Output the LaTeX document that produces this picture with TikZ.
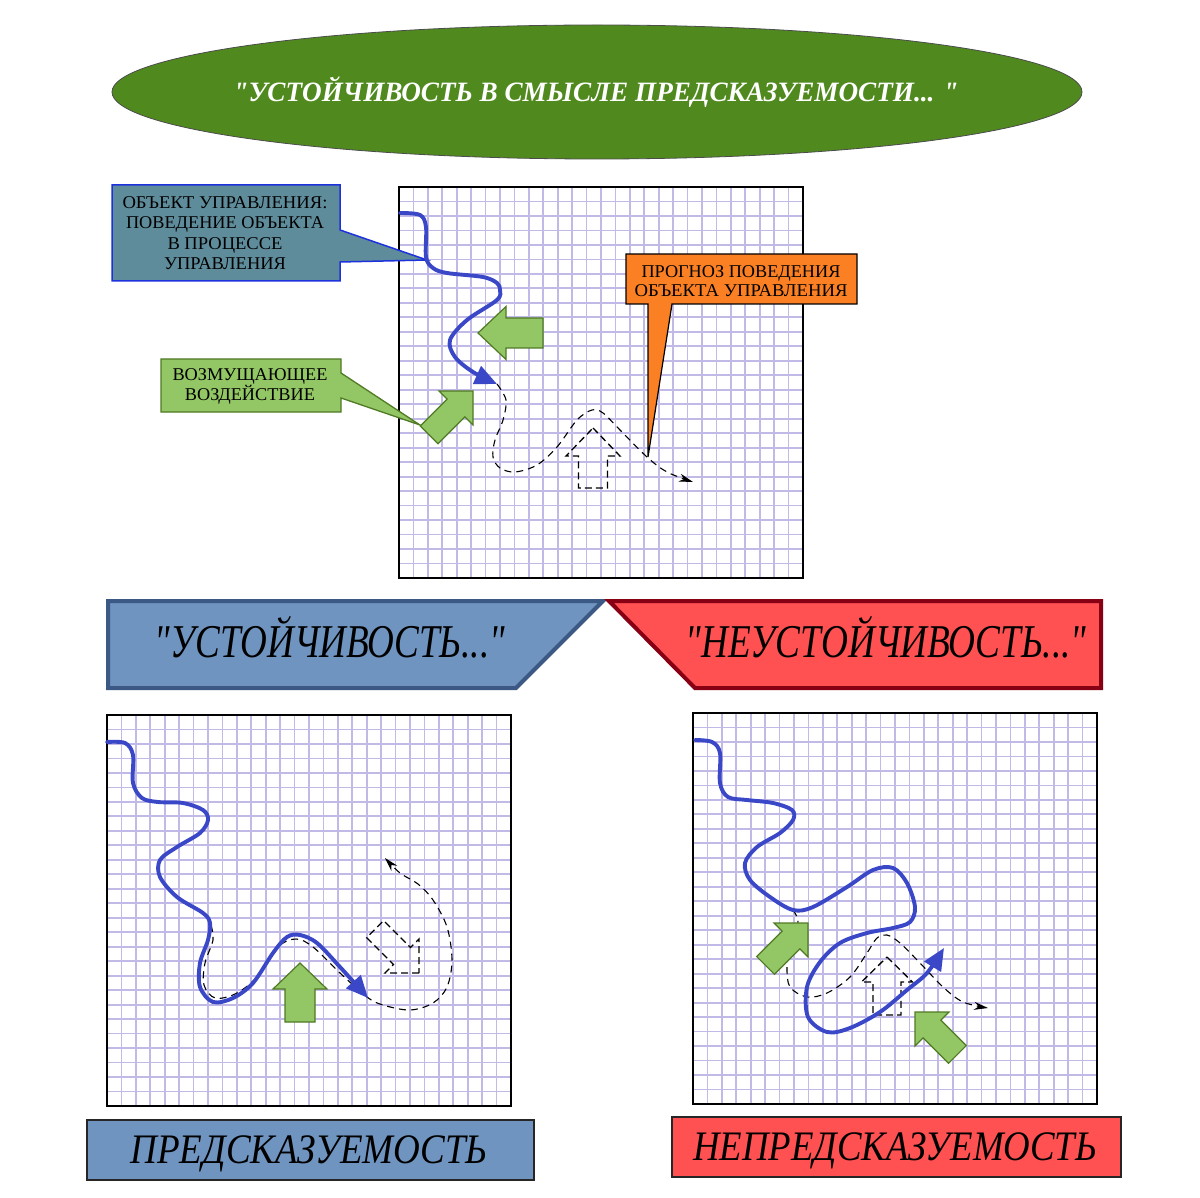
\documentclass[tikz,border=0pt]{standalone}
\usepackage{fontspec}
\setmainfont{Liberation Serif}[Ligatures=TeXOff]
\usetikzlibrary{arrows.meta,shapes.geometric}
\definecolor{gridc}{RGB}{194,186,230}
\definecolor{curveblue}{RGB}{58,72,200}
\definecolor{titlegreen}{RGB}{80,138,30}
\definecolor{arrgreen}{RGB}{147,198,100}
\definecolor{arrgreenb}{RGB}{80,122,36}
\definecolor{callblue}{RGB}{95,140,155}
\definecolor{callblueb}{RGB}{30,50,220}
\definecolor{callorange}{RGB}{250,128,35}
\definecolor{bannerblue}{RGB}{111,148,192}
\definecolor{bannerblueb}{RGB}{59,89,132}
\definecolor{bannerred}{RGB}{255,80,82}
\definecolor{bannerredb}{RGB}{135,0,20}
\newcommand\fw[2]{\resizebox{#1pt}{\height}{#2}}
\newcommand\gridbox[4]{%
  \fill[white] (#1,#2) rectangle (#3,#4);
  \foreach \i in {1,...,27}{\draw[gridl] ({#1+\i*(#3-#1)/28},#2) -- ({#1+\i*(#3-#1)/28},#4);}
  \foreach \j in {1,...,26}{\draw[gridl] (#1,{#2+\j*(#4-#2)/27}) -- (#3,{#2+\j*(#4-#2)/27});}
  \draw[black, line width=1.3] (#1,#2) rectangle (#3,#4);}
\newcommand\blkarrow[8]{\draw[#1, shift={(#2,#3)}, rotate=#4] (0,0) -- (-#6,#8/2) -- (-#6,#7/2) -- (-#5,#7/2) -- (-#5,-#7/2) -- (-#6,-#7/2) -- (-#6,-#8/2) -- cycle;}
\tikzset{
  gridl/.style={draw=gridc, line width=1.8},
  bluecurve/.style={draw=curveblue, line width=3.9, line cap=round, -{Triangle[length=22pt,width=19pt]}},
  dashcurve/.style={draw=black, line width=1.1, dash pattern=on 7pt off 5pt, -{Stealth[length=14pt,width=8pt]}},
  dashshape/.style={draw=black, line width=1.3, dash pattern=on 7pt off 4pt},
  greenarr/.style={fill=arrgreen, draw=arrgreenb, line width=1.2, line join=miter},
  calltext/.style={align=center, text=black, inner sep=0pt, font=\fontsize{18}{20.5}\selectfont},
  bigital/.style={anchor=base, inner sep=0pt, font=\itshape\fontsize{47}{50}\selectfont},
}
\begin{document}
\begin{tikzpicture}[x=1pt, y=-1pt]
\useasboundingbox (0,0) rectangle (1200,1198);
\fill[white] (0,0) rectangle (1200,1198);

% title ellipse
\node[ellipse, fill=titlegreen, draw=black!70, line width=0.8, minimum width=970pt, minimum height=134pt, inner sep=0pt] (title) at (597,92) {};
\node[anchor=base, inner sep=0pt, text=white, font=\bfseries\itshape\fontsize{28}{32}\selectfont] (titletext) at (596,102) {\fw{725}{"УСТОЙЧИВОСТЬ В СМЫСЛЕ ПРЕДСКАЗУЕМОСТИ... "}};

% ---------- top grid ----------
\gridbox{399}{187}{803}{578}

% callouts
\draw[fill=callblue, draw=callblueb, line width=1.5, line join=miter] (112,185) -- (340,185) -- (340,230) -- (427,260) -- (340,262) -- (340,281) -- (112,281) -- cycle;
\node[calltext] (c1) at (225,233) {\fw{205}{ОБЪЕКТ УПРАВЛЕНИЯ:}\\ \fw{198}{ПОВЕДЕНИЕ ОБЪЕКТА}\\ \fw{115}{В ПРОЦЕССЕ}\\ \fw{122}{УПРАВЛЕНИЯ}};
\draw[fill=arrgreen, draw=arrgreenb, line width=1.3, line join=miter] (161,359) -- (341,359) -- (341,373) -- (420,425) -- (341,398) -- (341,412) -- (161,412) -- cycle;
\node[calltext, font=\fontsize{18}{20}\selectfont] (c2) at (250,386) {\fw{155}{ВОЗМУЩАЮЩЕЕ}\\ \fw{130}{ВОЗДЕЙСТВИЕ}};
\draw[fill=callorange, draw=black, line width=1.2, line join=miter] (626,254) -- (857,254) -- (857,304) -- (672,304) -- (648,457) -- (648,304) -- (626,304) -- cycle;
\node[calltext, font=\fontsize{18}{19.5}\selectfont] (c3) at (741,281) {\fw{199}{ПРОГНОЗ ПОВЕДЕНИЯ}\\ \fw{213}{ОБЪЕКТА УПРАВЛЕНИЯ}};

% arrows in top grid
\blkarrow{greenarr}{478}{333}{180}{65}{28}{30}{53}
\blkarrow{greenarr}{473}{391}{45}{62}{24}{25}{48}
\blkarrow{dashshape}{593}{428}{90}{60}{28}{29}{54}
\draw[dashcurve] plot[smooth, tension=0.55] coordinates {(497,384) (506,400) (503,420) (495,440) (493,457) (500,468) (515,472) (537,465) (557,447) (577,420) (592,410) (603,413) (620,430) (647,457) (667,472) (693,482)};
\draw[bluecurve] plot[smooth, tension=0.55] coordinates {(400,213) (420,215) (426,227) (426,257) (433,268) (447,273) (483,277) (497,283) (500,290) (497,300) (467,320) (450,340) (455,357) (473,372) (497,384)};

% ---------- banners ----------
\draw[fill=bannerblue, draw=bannerblueb, line width=4, line join=miter] (108,601) -- (603,601) -- (516,688) -- (108,688) -- cycle;
\node[bigital] (b1) at (330,657) {\fw{350}{"УСТОЙЧИВОСТЬ..."}};
\draw[fill=bannerred, draw=bannerredb, line width=4, line join=miter] (609,601) -- (1101,601) -- (1101,688) -- (695,688) -- cycle;
\node[bigital] (b2) at (886,657) {\fw{401}{"НЕУСТОЙЧИВОСТЬ..."}};

% ---------- bottom-left grid ----------
\gridbox{107}{715}{511}{1106}
\blkarrow{greenarr}{300}{963}{90}{59}{26}{30}{54}
\blkarrow{dashshape}{419}{973}{-45}{62}{24}{24}{48}
\draw[dashcurve] plot[smooth, tension=0.55] coordinates {(211,925) (213,940) (205,963) (204,985) (215,998) (235,994) (256,978) (278,947) (296,939) (313,947) (340,973) (367,997) (383,1005) (410,1010) (433,1003) (447,987) (452,960) (447,927) (433,900) (418,884) (400,873) (385,858)};
\draw[bluecurve] plot[smooth, tension=0.55] coordinates {(107,742) (125,743) (133,755) (133,783) (142,798) (158,802) (183,803) (203,810) (208,820) (200,833) (177,847) (160,860) (160,877) (177,897) (203,913) (210,923) (208,940) (200,963) (200,987) (213,1002) (233,998) (253,983) (273,953) (287,937) (300,935) (317,943) (340,967) (368,998)};

% ---------- bottom-right grid ----------
\gridbox{693}{713}{1097}{1104}
\blkarrow{dashshape}{887}{957}{90}{58}{25}{28}{51}
\draw[dashcurve] plot[smooth, tension=0.55] coordinates {(793,910) (798,922) (790,943) (787,967) (790,987) (807,997) (827,993) (850,977) (867,953) (877,938) (887,935) (900,943) (920,963) (943,987) (963,1002) (988,1008)};
\draw[bluecurve] plot[smooth, tension=0.55] coordinates {(695,740) (712,742) (720,753) (720,783) (728,797) (747,800) (773,803) (792,810) (793,820) (780,833) (757,847) (745,863) (750,880) (770,897) (793,910) (813,907) (847,887) (873,870) (893,868) (907,883) (915,907) (910,922) (893,928) (867,933) (840,943) (820,962) (807,987) (808,1017) (827,1032) (850,1028) (880,1012) (907,990) (927,973) (944,948)};
\blkarrow{greenarr}{808}{923}{45}{60}{24}{25}{48}
\blkarrow{greenarr}{915}{1012}{135}{60}{24}{25}{48}

% ---------- bottom labels ----------
\draw[fill=bannerblue, draw=black!85, line width=2] (87,1120) rectangle (534,1180);
\node[bigital, font=\itshape\fontsize{42}{44}\selectfont] (l1) at (309,1163) {\fw{357}{ПРЕДСКАЗУЕМОСТЬ}};
\draw[fill=bannerred, draw=black!85, line width=2] (672,1117) rectangle (1121,1177);
\node[bigital, font=\itshape\fontsize{42}{44}\selectfont] (l2) at (895,1160) {\fw{404}{НЕПРЕДСКАЗУЕМОСТЬ}};
\end{tikzpicture}
\end{document}
